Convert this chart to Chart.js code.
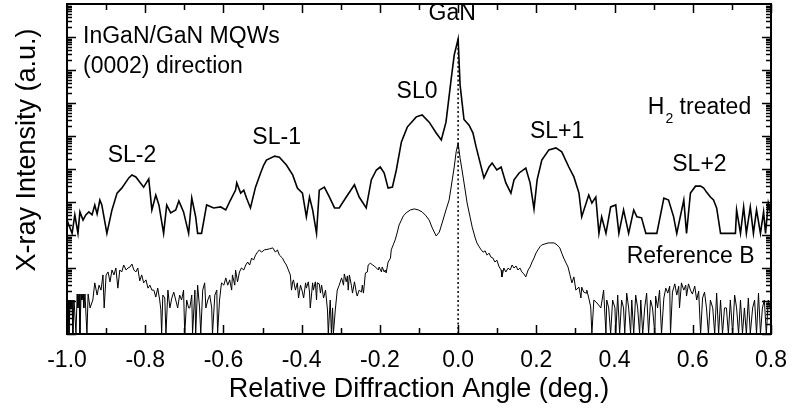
<!DOCTYPE html>
<html>
<head>
<meta charset="utf-8">
<script src="https://cdn.jsdelivr.net/npm/chart.js@4/dist/chart.umd.min.js"></script>
<style>
  html, body { margin: 0; padding: 0; background: #fff; }
  canvas { display: block; }
</style>
</head>
<body>
<canvas id="xrd" width="792" height="412"></canvas>
<script>
const FONT = "'Liberation Sans', Arial, sans-serif";

// H2 treated sample: angle (deg.) and log10 of intensity (offset upward in the plot)
const h2Angle = [
  -1.000, -0.987, -0.980, -0.972, -0.967, -0.959, -0.952, -0.944, -0.936, -0.929,
  -0.923, -0.916, -0.911, -0.898, -0.885, -0.872, -0.860, -0.842, -0.834, -0.824,
  -0.804, -0.791, -0.783, -0.773, -0.765, -0.753, -0.745, -0.735, -0.722, -0.714,
  -0.702, -0.689, -0.681, -0.671, -0.666, -0.656, -0.643, -0.625, -0.607, -0.594,
  -0.582, -0.569, -0.566, -0.556, -0.548, -0.541, -0.531, -0.518, -0.505, -0.497,
  -0.490, -0.469, -0.457, -0.439, -0.423, -0.411, -0.398, -0.388, -0.380, -0.372,
  -0.362, -0.355, -0.342, -0.329, -0.316, -0.304, -0.286, -0.265, -0.253, -0.235,
  -0.222, -0.209, -0.199, -0.189, -0.179, -0.168, -0.158, -0.145, -0.130, -0.107,
  -0.092, -0.074, -0.056, -0.043, -0.031, -0.018, -0.010, 0.000, 0.005, 0.015,
  0.028, 0.038, 0.046, 0.066, 0.079, 0.087, 0.099, 0.110, 0.122, 0.135,
  0.143, 0.156, 0.173, 0.184, 0.194, 0.202, 0.214, 0.232, 0.250, 0.265,
  0.283, 0.296, 0.309, 0.316, 0.334, 0.342, 0.352, 0.360, 0.367, 0.378,
  0.390, 0.403, 0.411, 0.423, 0.436, 0.449, 0.457, 0.469, 0.480, 0.508,
  0.526, 0.538, 0.551, 0.559, 0.577, 0.584, 0.594, 0.607, 0.620, 0.628,
  0.635, 0.645, 0.653, 0.661, 0.671, 0.709, 0.712, 0.722, 0.730, 0.737,
  0.747, 0.755, 0.763, 0.773, 0.781, 0.786, 0.793, 0.800
];
const h2LogI = [
  3.45, 3.05, 3.61, 3.05, 3.70, 3.45, 3.61, 3.70, 3.61, 3.91,
  3.64, 4.06, 3.91, 3.05, 3.76, 4.27, 4.42, 4.73, 4.82, 4.76,
  4.45, 4.70, 3.76, 4.21, 3.91, 3.05, 3.91, 3.67, 3.76, 4.03,
  3.70, 3.05, 4.12, 3.55, 3.05, 3.05, 3.91, 3.82, 3.85, 3.76,
  4.06, 4.36, 4.58, 4.27, 4.36, 4.12, 3.82, 4.45, 4.88, 5.12,
  5.27, 5.39, 5.36, 5.12, 4.82, 4.42, 4.27, 3.55, 4.15, 3.76,
  3.05, 4.36, 4.45, 4.15, 3.82, 3.82, 4.15, 4.52, 4.15, 3.82,
  4.67, 4.97, 5.06, 4.88, 4.42, 4.45, 4.97, 5.82, 6.27, 6.58,
  6.64, 6.42, 6.09, 5.88, 6.42, 7.70, 8.45, 8.94, 7.55, 6.50,
  6.33, 6.09, 5.67, 4.73, 5.06, 5.18, 4.97, 5.06, 4.58, 4.27,
  4.67, 4.88, 5.03, 4.58, 3.79, 4.67, 5.27, 5.58, 5.64, 5.52,
  5.06, 4.76, 4.27, 3.55, 4.21, 3.97, 4.15, 3.05, 3.55, 3.05,
  3.85, 3.91, 3.05, 3.76, 3.05, 3.76, 3.55, 3.52, 3.05, 3.05,
  4.12, 4.06, 3.55, 3.05, 4.06, 3.05, 4.27, 4.48, 4.48, 4.42,
  4.30, 4.15, 4.06, 3.82, 3.05, 3.05, 3.76, 3.05, 3.85, 3.05,
  3.85, 3.05, 3.76, 3.05, 3.70, 3.05, 3.97, 3.61
];

// Reference B sample: angle (deg.) and log10 of intensity
const refAngle = [
  -1.000, -0.997, -0.995, -0.992, -0.990, -0.987, -0.985, -0.982, -0.980, -0.977,
  -0.974, -0.972, -0.969, -0.967, -0.964, -0.962, -0.959, -0.957, -0.954, -0.949,
  -0.946, -0.941, -0.939, -0.934, -0.929, -0.923, -0.918, -0.913, -0.908, -0.905,
  -0.900, -0.895, -0.890, -0.885, -0.880, -0.875, -0.870, -0.865, -0.860, -0.855,
  -0.849, -0.844, -0.839, -0.834, -0.829, -0.824, -0.819, -0.814, -0.809, -0.804,
  -0.798, -0.793, -0.788, -0.783, -0.778, -0.773, -0.768, -0.763, -0.760, -0.758,
  -0.755, -0.750, -0.747, -0.742, -0.737, -0.732, -0.727, -0.722, -0.717, -0.712,
  -0.707, -0.702, -0.699, -0.694, -0.689, -0.686, -0.681, -0.679, -0.673, -0.671,
  -0.666, -0.661, -0.658, -0.653, -0.648, -0.645, -0.640, -0.635, -0.630, -0.628,
  -0.622, -0.617, -0.615, -0.610, -0.605, -0.599, -0.594, -0.589, -0.584, -0.579,
  -0.577, -0.571, -0.569, -0.564, -0.559, -0.554, -0.548, -0.543, -0.538, -0.533,
  -0.528, -0.523, -0.518, -0.513, -0.508, -0.503, -0.495, -0.482, -0.474, -0.467,
  -0.462, -0.457, -0.449, -0.444, -0.439, -0.434, -0.429, -0.426, -0.423, -0.421,
  -0.416, -0.411, -0.408, -0.403, -0.398, -0.395, -0.390, -0.388, -0.383, -0.380,
  -0.378, -0.372, -0.370, -0.365, -0.362, -0.360, -0.355, -0.352, -0.349, -0.344,
  -0.339, -0.334, -0.332, -0.327, -0.324, -0.321, -0.319, -0.314, -0.309, -0.304,
  -0.298, -0.293, -0.291, -0.286, -0.283, -0.281, -0.278, -0.273, -0.270, -0.265,
  -0.260, -0.258, -0.253, -0.247, -0.245, -0.242, -0.237, -0.232, -0.230, -0.224,
  -0.219, -0.214, -0.209, -0.204, -0.202, -0.196, -0.194, -0.189, -0.186, -0.184,
  -0.179, -0.173, -0.171, -0.166, -0.161, -0.156, -0.151, -0.140, -0.133, -0.122,
  -0.112, -0.102, -0.092, -0.082, -0.074, -0.066, -0.056, -0.048, -0.041, -0.031,
  -0.023, -0.015, -0.010, -0.005, 0.000, 0.005, 0.010, 0.018, 0.023, 0.031,
  0.036, 0.043, 0.048, 0.054, 0.059, 0.064, 0.069, 0.074, 0.079, 0.084,
  0.089, 0.094, 0.099, 0.105, 0.110, 0.112, 0.117, 0.122, 0.128, 0.133,
  0.138, 0.143, 0.148, 0.153, 0.158, 0.163, 0.168, 0.173, 0.179, 0.184,
  0.189, 0.194, 0.199, 0.204, 0.209, 0.214, 0.222, 0.230, 0.237, 0.245,
  0.253, 0.260, 0.265, 0.270, 0.276, 0.281, 0.286, 0.291, 0.296, 0.301,
  0.309, 0.314, 0.316, 0.321, 0.327, 0.329, 0.334, 0.339, 0.342, 0.347,
  0.355, 0.365, 0.372, 0.378, 0.380, 0.385, 0.390, 0.395, 0.401, 0.403,
  0.408, 0.413, 0.418, 0.423, 0.426, 0.431, 0.436, 0.441, 0.444, 0.449,
  0.454, 0.459, 0.464, 0.467, 0.472, 0.477, 0.482, 0.487, 0.492, 0.497,
  0.503, 0.505, 0.510, 0.515, 0.520, 0.526, 0.531, 0.536, 0.541, 0.543,
  0.548, 0.554, 0.559, 0.564, 0.566, 0.571, 0.577, 0.582, 0.584, 0.589,
  0.594, 0.599, 0.605, 0.610, 0.615, 0.620, 0.625, 0.630, 0.635, 0.640,
  0.645, 0.651, 0.656, 0.661, 0.666, 0.671, 0.676, 0.681, 0.686, 0.691,
  0.696, 0.702, 0.707, 0.712, 0.717, 0.722, 0.727, 0.732, 0.737, 0.742,
  0.747, 0.753, 0.758, 0.763, 0.768, 0.773, 0.778, 0.783, 0.788, 0.793,
  0.798
];
const refLogI = [
  0, 1.03, 0, 1.03, 0.79, 1.03, 0, 1.03, 1.03, 0,
  1.21, 0.79, 1.21, 0, 1.21, 1.03, 1.21, 0.79, 1.21, 0,
  1.21, 0.79, 0.79, 1.03, 1.55, 1.18, 1.48, 1.33, 1.79, 0.79,
  1.79, 1.88, 1.58, 1.94, 1.79, 2.00, 1.39, 1.94, 1.88, 2.09,
  1.94, 2.00, 2.03, 2.12, 1.94, 1.88, 2.00, 1.61, 1.79, 1.55,
  1.64, 1.39, 1.48, 1.33, 1.33, 1.12, 1.39, 1.03, 0.73, 0,
  1.18, 1.09, 0, 1.33, 0.79, 1.09, 1.27, 1.03, 0.79, 1.18,
  1.03, 1.33, 0, 1.03, 0.79, 0.79, 1.18, 0, 1.33, 0,
  1.48, 0.79, 0, 1.33, 1.55, 0.79, 1.03, 1.18, 0.79, 0,
  1.18, 1.33, 0, 1.03, 1.55, 1.48, 1.70, 1.48, 1.64, 1.33,
  1.79, 1.48, 1.94, 1.58, 1.88, 2.00, 1.94, 2.09, 2.18, 2.09,
  2.30, 2.24, 2.39, 2.48, 2.55, 2.48, 2.55, 2.58, 2.61, 2.48,
  2.55, 2.39, 2.30, 2.18, 2.09, 1.94, 1.79, 1.33, 1.58, 1.64,
  1.33, 1.55, 1.09, 1.48, 1.27, 1.09, 1.55, 1.39, 1.58, 1.27,
  0.79, 1.55, 1.33, 1.58, 1.03, 1.55, 1.52, 1.24, 1.48, 1.09,
  1.33, 0.73, 0, 1.03, 0, 0.79, 0, 0.73, 1.33, 1.48,
  1.70, 1.48, 1.82, 1.58, 1.76, 1.33, 1.79, 1.48, 1.24, 1.58,
  1.24, 1.15, 1.33, 1.27, 1.48, 1.24, 1.85, 1.88, 2.09, 2.15,
  2.09, 2.06, 2.00, 1.94, 2.03, 1.88, 2.03, 1.88, 1.94, 1.85,
  2.18, 2.30, 2.55, 2.70, 2.85, 3.06, 3.30, 3.58, 3.67, 3.76,
  3.79, 3.76, 3.70, 3.58, 3.45, 3.21, 2.97, 3.09, 3.36, 3.76,
  4.06, 4.67, 5.06, 5.52, 5.79, 5.33, 4.97, 4.36, 3.97, 3.52,
  3.24, 2.94, 2.76, 2.64, 2.55, 2.48, 2.52, 2.39, 2.45, 2.33,
  2.30, 2.18, 2.24, 2.03, 1.94, 1.73, 2.00, 1.88, 2.00, 1.94,
  2.09, 2.00, 2.06, 1.94, 2.00, 1.88, 1.82, 1.73, 1.94, 2.03,
  2.18, 2.30, 2.45, 2.55, 2.64, 2.70, 2.73, 2.76, 2.76, 2.76,
  2.70, 2.61, 2.45, 2.30, 2.15, 2.03, 1.79, 1.55, 1.73, 1.33,
  1.42, 1.09, 1.42, 1.27, 1.24, 1.33, 1.09, 0.82, 0, 1.03,
  0.94, 0.79, 1.33, 0, 1.03, 0.79, 0, 1.03, 0.79, 0,
  1.18, 0, 1.03, 0.79, 0, 1.24, 0.79, 0, 1.03, 0,
  1.18, 0.79, 0, 1.03, 0, 0.79, 1.24, 0, 1.03, 0.79,
  0, 1.15, 0.79, 1.33, 0, 1.09, 1.39, 1.24, 1.45, 0,
  1.27, 1.52, 1.18, 1.45, 0.79, 1.55, 1.33, 1.48, 1.15, 1.52,
  1.33, 1.21, 1.45, 1.03, 1.30, 0, 1.09, 1.27, 0.79, 0,
  1.03, 0.79, 0, 1.24, 0, 1.03, 0, 0.79, 0.79, 0,
  1.03, 0, 1.18, 0.79, 0, 1.03, 0, 0.79, 0, 1.09,
  0, 0.79, 1.03, 0, 1.24, 0, 0.79, 1.03, 0, 1.03,
  0.79
];

// x axis tick values
const xTicks = [-1.0, -0.8, -0.6, -0.4, -0.2, 0.0, 0.2, 0.4, 0.6, 0.8];

// text notes placed in data units: [text, angle, log10 I, align]
const notes = [
  ["InGaN/GaN MQWs", -0.959, 9.00, "left"],
  ["(0002) direction", -0.959, 8.09, "left"],
  ["GaN", -0.015, 9.71, "center"],
  ["SL0", -0.105, 7.33, "center"],
  ["SL-1", -0.464, 5.94, "center"],
  ["SL-2", -0.834, 5.39, "center"],
  ["SL+1", 0.253, 6.12, "center"],
  ["SL+2", 0.617, 5.12, "center"],
  ["Reference B", 0.431, 2.33, "left"]
];

const toPoints = (xs, logs) => xs.map((a, i) => ({ x: a, y: Math.pow(10, logs[i]) }));
const peakLog = Math.max(...h2LogI);

// frame, inward ticks, notes and y title
const decorations = {
  id: "decorations",
  afterDatasetsDraw(chart) {
    const { ctx, chartArea: area, scales: { x, y } } = chart;
    ctx.save();
    ctx.strokeStyle = "#000";
    ctx.lineWidth = 1.5;
    ctx.beginPath();
    for (let k = -10; k <= 8; k++) {
      const px = Math.round(x.getPixelForValue(k / 10)) + 0.5;
      const len = k % 2 === 0 ? 9 : 6;
      ctx.moveTo(px, area.bottom); ctx.lineTo(px, area.bottom - len);
      ctx.moveTo(px, area.top); ctx.lineTo(px, area.top + len);
    }
    for (let d = 0; d < 10; d++) {
      for (let m = 1; m < 10; m++) {
        const py = Math.round(y.getPixelForValue(m * Math.pow(10, d))) + 0.5;
        const len = m === 1 ? 9 : 5;
        ctx.moveTo(area.left, py); ctx.lineTo(area.left + len, py);
        ctx.moveTo(area.right, py); ctx.lineTo(area.right - len, py);
      }
    }
    ctx.stroke();
    ctx.lineWidth = 2;
    ctx.strokeRect(area.left, area.top, area.right - area.left, area.bottom - area.top);

    ctx.fillStyle = "#000";
    ctx.textBaseline = "middle";
    ctx.font = "23px " + FONT;
    notes.forEach(([text, a, l, align]) => {
      ctx.textAlign = align;
      ctx.fillText(text, x.getPixelForValue(a), y.getPixelForValue(Math.pow(10, l)));
    });

    // "H2 treated" with subscript
    let hx = x.getPixelForValue(0.485);
    const hy = y.getPixelForValue(Math.pow(10, 6.86));
    ctx.textAlign = "left";
    ctx.fillText("H", hx, hy);
    hx += ctx.measureText("H").width;
    ctx.font = "14px " + FONT;
    ctx.fillText("2", hx + 1, hy + 12);
    hx += ctx.measureText("2").width + 1;
    ctx.font = "23px " + FONT;
    ctx.fillText(" treated", hx, hy);

    // y axis title
    ctx.save();
    ctx.translate(28, 150);
    ctx.rotate(-Math.PI / 2);
    ctx.textAlign = "center";
    ctx.font = "27px " + FONT;
    ctx.fillText("X-ray Intensity (a.u.)", 0, 0);
    ctx.restore();
    ctx.restore();
  }
};

new Chart(document.getElementById("xrd"), {
  type: "scatter",
  data: {
    datasets: [
      {
        label: "H2 treated",
        data: toPoints(h2Angle, h2LogI),
        showLine: true,
        borderColor: "#000",
        borderWidth: 1.6,
        pointRadius: 0,
        tension: 0
      },
      {
        label: "Reference B",
        data: toPoints(refAngle, refLogI),
        showLine: true,
        borderColor: "#000",
        borderWidth: 1,
        pointRadius: 0,
        tension: 0
      },
      {
        label: "GaN position",
        data: [{ x: 0, y: Math.pow(10, peakLog) }, { x: 0, y: 1 }],
        showLine: true,
        borderColor: "#000",
        borderWidth: 1.5,
        borderDash: [2, 2.5],
        pointRadius: 0
      }
    ]
  },
  options: {
    responsive: false,
    animation: false,
    devicePixelRatio: 1,
    layout: { padding: { left: 0, right: 19, top: 4, bottom: 0 } },
    plugins: { legend: { display: false }, tooltip: { enabled: false } },
    scales: {
      x: {
        type: "linear",
        min: -1,
        max: 0.8,
        grid: { display: false },
        border: { display: false },
        afterBuildTicks: s => { s.ticks = xTicks.map(v => ({ value: v })); },
        ticks: {
          color: "#000",
          padding: 5,
          maxRotation: 0,
          autoSkip: false,
          font: { size: 23, family: FONT },
          callback: v => Number(v).toFixed(1)
        },
        title: {
          display: true,
          text: "Relative Diffraction Angle (deg.)",
          color: "#000",
          font: { size: 27, family: FONT },
          padding: { top: 0, bottom: 6 }
        },
        afterFit: s => { s.height = 78; }
      },
      y: {
        type: "logarithmic",
        min: 1,
        max: 1e10,
        grid: { display: false },
        border: { display: false },
        ticks: { display: false },
        afterFit: s => { s.width = 67; }
      }
    }
  },
  plugins: [decorations]
});
</script>
</body>
</html>
